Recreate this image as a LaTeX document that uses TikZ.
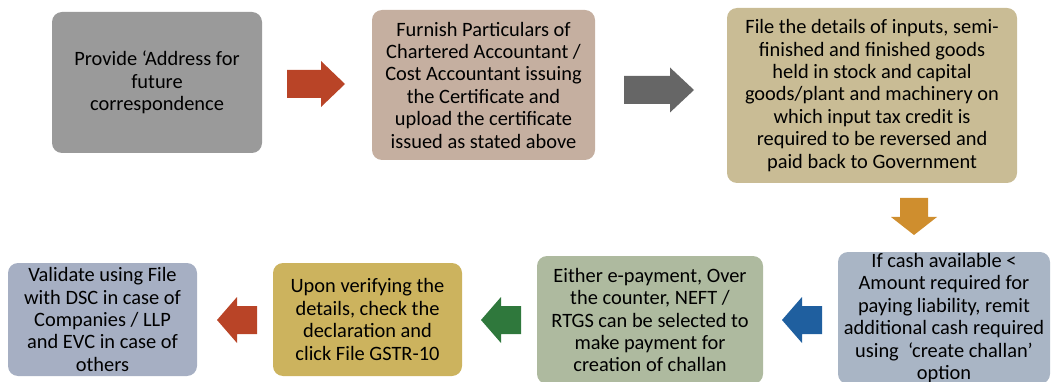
\documentclass[tikz,border=0pt]{standalone}
\usepackage{fontspec}
\setmainfont{Carlito}
\definecolor{cBa}{HTML}{9A9A9A}
\definecolor{cBb}{HTML}{C5AFA0}
\definecolor{cBc}{HTML}{C9BC95}
\definecolor{cBd}{HTML}{A9B5C5}
\definecolor{cBe}{HTML}{AEBA9F}
\definecolor{cBf}{HTML}{CCB35E}
\definecolor{cBg}{HTML}{A6AFC3}
\definecolor{aRed}{HTML}{B94427}
\definecolor{aGray}{HTML}{666666}
\definecolor{aOrange}{HTML}{CF8E2E}
\definecolor{aBlue}{HTML}{1F5F9F}
\definecolor{aGreen}{HTML}{2F783C}
\begin{document}
\begin{tikzpicture}[x=1pt,y=-1pt,
  box/.style={rounded corners=10pt, inner sep=0pt, align=center,
    font=\fontsize{20.4}{22.4}\selectfont, text=black},
  blockarrow/.style={draw=none}]
\useasboundingbox (0,0) rectangle (1052,382);
\clip (0,0) rectangle (1052,382);
% boxes
\node[box, fill=cBa, minimum width=210pt, minimum height=141pt] (b1) at (157,82.5)
  {Provide ‘Address for\\future\\correspondence};
\node[box, fill=cBb, minimum width=223pt, minimum height=150pt] (b2) at (483.5,85)
  {Furnish Particulars of\\Chartered Accountant /\\Cost Accountant issuing\\the Certificate and\\upload the certificate\\issued as stated above};
\node[box, fill=cBc, minimum width=290pt, minimum height=175pt] (b3) at (872,95.5)
  {File the details of inputs, semi-\\finished and finished goods\\held in stock and capital\\goods/plant and machinery on\\which input tax credit is\\required to be reversed and\\paid back to Government};
\node[box, fill=cBd, minimum width=212pt, minimum height=132pt] (b4) at (944,318)
  {If cash available <\\Amount required for\\paying liability, remit\\additional cash required\\using\ \ ‘create challan’\\option};
\node[box, fill=cBe, minimum width=226pt, minimum height=128pt] (b5) at (650,320)
  {Either e-payment, Over\\the counter, NEFT /\\RTGS can be selected to\\make payment for\\creation of challan};
\node[box, fill=cBf, minimum width=189pt, minimum height=113pt] (b6) at (367.5,319.5)
  {Upon verifying the\\details, check the\\declaration and\\click File GSTR-10};
\node[box, fill=cBg, minimum width=189pt, minimum height=113pt] (b7) at (102.5,319.5)
  {Validate using File\\with DSC in case of\\Companies / LLP\\and EVC in case of\\others};
% block arrows
\fill[blockarrow, aRed] (287,70) -- (321,70) -- (321,61) -- (345,84) -- (321,107) -- (321,98) -- (287,98) -- cycle;
\fill[blockarrow, aGray] (624,76) -- (670,76) -- (670,67.5) -- (694,90) -- (670,112.5) -- (670,104) -- (624,104) -- cycle;
\fill[blockarrow, aOrange] (900,198) -- (928,198) -- (928,217) -- (937,217) -- (914,235) -- (891,217) -- (900,217) -- cycle;
\fill[blockarrow, aBlue] (822,306) -- (802,306) -- (802,297) -- (782,320) -- (802,343) -- (802,334) -- (822,334) -- cycle;
\fill[blockarrow, aGreen] (521,306) -- (501,306) -- (501,297) -- (481,320) -- (501,343) -- (501,334) -- (521,334) -- cycle;
\fill[blockarrow, aRed] (257,306) -- (237,306) -- (237,297) -- (217,320) -- (237,343) -- (237,334) -- (257,334) -- cycle;
\end{tikzpicture}
\end{document}
